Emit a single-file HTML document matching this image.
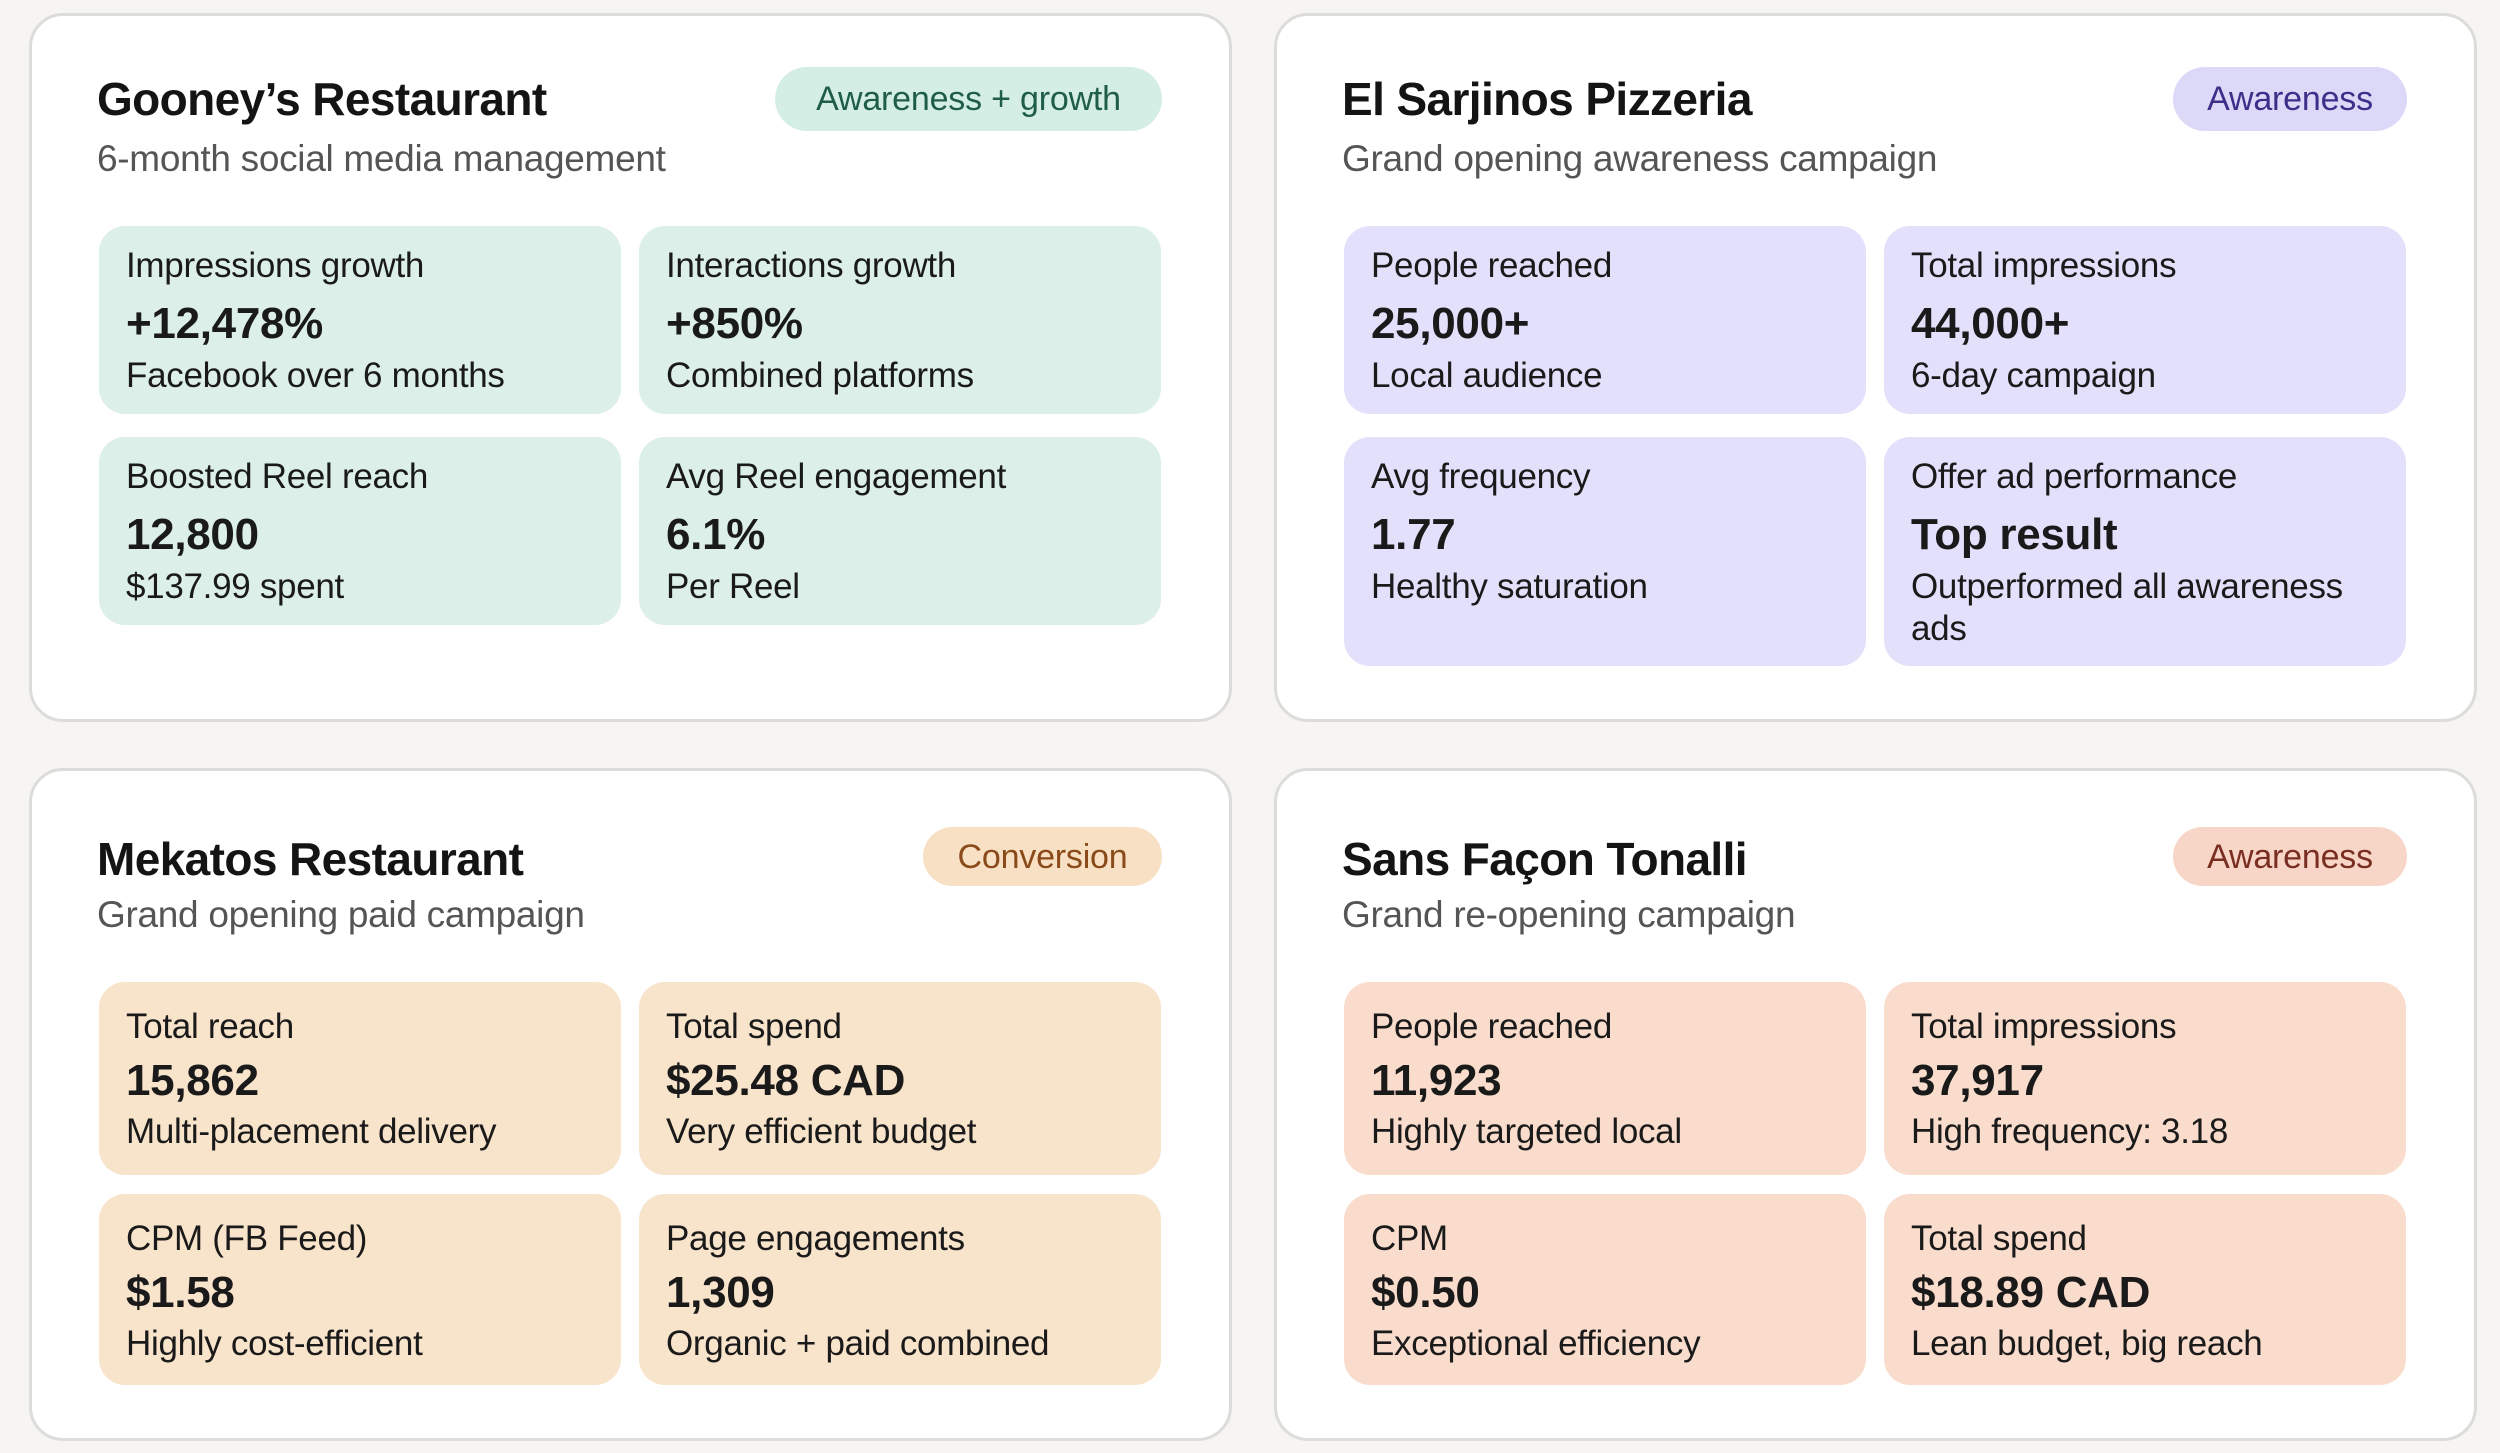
<!DOCTYPE html>
<html><head><meta charset="utf-8"><style>
*{margin:0;padding:0;box-sizing:border-box}
body{width:2500px;height:1453px;background:#f6f5f1;font-family:"Liberation Sans",sans-serif;position:relative;overflow:hidden;color:#1a1a1a}
.card{position:absolute;width:1203px;background:#fff;border:3px solid #dcdcda;border-radius:34px}
.title{position:absolute;left:65px;font-size:46px;font-weight:bold;letter-spacing:-0.6px;line-height:60px;color:#141414}
.sub{position:absolute;left:65px;font-size:37px;line-height:50px;color:#555;letter-spacing:-0.3px}
.badge{position:absolute;border-radius:32px;font-size:34px;line-height:1;display:flex;align-items:center;justify-content:center;letter-spacing:-0.2px}
.tile{position:absolute;width:522px;border-radius:26px}
.tile div{position:absolute;left:27px;white-space:nowrap;letter-spacing:-0.3px}
.lb{font-size:35px;line-height:46px}
.vl{font-size:44px;font-weight:bold;line-height:56px}
.sb{font-size:35px;line-height:42px}
</style></head><body>

<div class="card" style="left:29px;top:13px;height:709px">
 <div class="title" style="top:53px">Gooney’s Restaurant</div>
 <div class="sub" style="top:118px">6-month social media management</div>
 <div class="badge" style="left:743px;top:51px;width:387px;height:64px;background:#d4eee5;color:#1f5c4a">Awareness + growth</div>
 <div class="tile" style="left:67px;top:210px;height:188px;background:#dcefe8"><div class="lb" style="top:17px">Impressions growth</div><div class="vl" style="top:70px">+12,478%</div><div class="sb" style="top:129px">Facebook over 6 months</div></div>
 <div class="tile" style="left:607px;top:210px;height:188px;background:#dcefe8"><div class="lb" style="top:17px">Interactions growth</div><div class="vl" style="top:70px">+850%</div><div class="sb" style="top:129px">Combined platforms</div></div>
 <div class="tile" style="left:67px;top:421px;height:188px;background:#dcefe8"><div class="lb" style="top:17px">Boosted Reel reach</div><div class="vl" style="top:70px">12,800</div><div class="sb" style="top:129px">$137.99 spent</div></div>
 <div class="tile" style="left:607px;top:421px;height:188px;background:#dcefe8"><div class="lb" style="top:17px">Avg Reel engagement</div><div class="vl" style="top:70px">6.1%</div><div class="sb" style="top:129px">Per Reel</div></div>
</div>

<div class="card" style="left:1274px;top:13px;height:709px">
 <div class="title" style="top:53px">El Sarjinos Pizzeria</div>
 <div class="sub" style="top:118px">Grand opening awareness campaign</div>
 <div class="badge" style="left:896px;top:51px;width:234px;height:64px;background:#dcd8f8;color:#3d2e8a">Awareness</div>
 <div class="tile" style="left:67px;top:210px;height:188px;background:#e3e0fb"><div class="lb" style="top:17px">People reached</div><div class="vl" style="top:70px">25,000+</div><div class="sb" style="top:129px">Local audience</div></div>
 <div class="tile" style="left:607px;top:210px;height:188px;background:#e3e0fb"><div class="lb" style="top:17px">Total impressions</div><div class="vl" style="top:70px">44,000+</div><div class="sb" style="top:129px">6-day campaign</div></div>
 <div class="tile" style="left:67px;top:421px;height:229px;background:#e3e0fb"><div class="lb" style="top:17px">Avg frequency</div><div class="vl" style="top:70px">1.77</div><div class="sb" style="top:129px">Healthy saturation</div></div>
 <div class="tile" style="left:607px;top:421px;height:229px;background:#e3e0fb"><div class="lb" style="top:17px">Offer ad performance</div><div class="vl" style="top:70px">Top result</div><div class="sb" style="top:129px">Outperformed all awareness</div><div class="sb" style="top:171px">ads</div></div>
</div>

<div class="card" style="left:29px;top:768px;height:673px">
 <div class="title" style="top:58px">Mekatos Restaurant</div>
 <div class="sub" style="top:119px">Grand opening paid campaign</div>
 <div class="badge" style="left:891px;top:56px;width:239px;height:59px;background:#f8e0c4;color:#8a4a1a">Conversion</div>
 <div class="tile" style="left:67px;top:211px;height:193px;background:#f8e3cb"><div class="lb" style="top:22px">Total reach</div><div class="vl" style="top:71px">15,862</div><div class="sb" style="top:129px">Multi-placement delivery</div></div>
 <div class="tile" style="left:607px;top:211px;height:193px;background:#f8e3cb"><div class="lb" style="top:22px">Total spend</div><div class="vl" style="top:71px">$25.48 CAD</div><div class="sb" style="top:129px">Very efficient budget</div></div>
 <div class="tile" style="left:67px;top:423px;height:191px;background:#f8e3cb"><div class="lb" style="top:22px">CPM (FB Feed)</div><div class="vl" style="top:71px">$1.58</div><div class="sb" style="top:129px">Highly cost-efficient</div></div>
 <div class="tile" style="left:607px;top:423px;height:191px;background:#f8e3cb"><div class="lb" style="top:22px">Page engagements</div><div class="vl" style="top:71px">1,309</div><div class="sb" style="top:129px">Organic + paid combined</div></div>
</div>

<div class="card" style="left:1274px;top:768px;height:673px">
 <div class="title" style="top:58px">Sans Façon Tonalli</div>
 <div class="sub" style="top:119px">Grand re-opening campaign</div>
 <div class="badge" style="left:896px;top:56px;width:234px;height:59px;background:#f7d6c8;color:#7a2e22">Awareness</div>
 <div class="tile" style="left:67px;top:211px;height:193px;background:#f9dccc"><div class="lb" style="top:22px">People reached</div><div class="vl" style="top:71px">11,923</div><div class="sb" style="top:129px">Highly targeted local</div></div>
 <div class="tile" style="left:607px;top:211px;height:193px;background:#f9dccc"><div class="lb" style="top:22px">Total impressions</div><div class="vl" style="top:71px">37,917</div><div class="sb" style="top:129px">High frequency: 3.18</div></div>
 <div class="tile" style="left:67px;top:423px;height:191px;background:#f9dccc"><div class="lb" style="top:22px">CPM</div><div class="vl" style="top:71px">$0.50</div><div class="sb" style="top:129px">Exceptional efficiency</div></div>
 <div class="tile" style="left:607px;top:423px;height:191px;background:#f9dccc"><div class="lb" style="top:22px">Total spend</div><div class="vl" style="top:71px">$18.89 CAD</div><div class="sb" style="top:129px">Lean budget, big reach</div></div>
</div>

</body></html>
